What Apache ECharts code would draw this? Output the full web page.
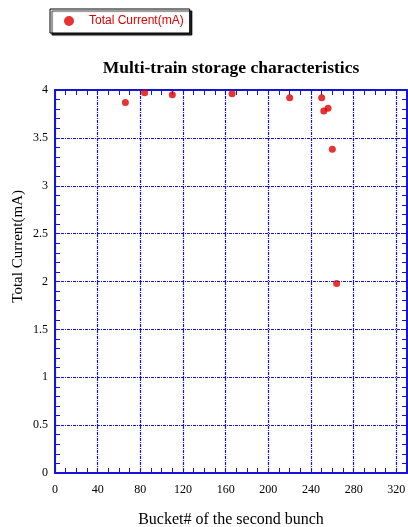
<!DOCTYPE html>
<html>
<head>
<meta charset="utf-8">
<script src="https://cdn.jsdelivr.net/npm/echarts@6/dist/echarts.min.js"></script>
<style>
  html, body { margin: 0; padding: 0; background: #fff; }
  #chart { width: 408px; height: 527px; }
</style>
</head>
<body>
<div id="chart"></div>
<script>
// bucket number of the second bunch vs total stored current
const bucket = [66, 84, 110, 166, 220, 250, 252, 256, 260, 264];
const current = [3.87, 3.97, 3.95, 3.96, 3.92, 3.92, 3.78, 3.81, 3.38, 1.98];
const xTicks = [0, 40, 80, 120, 160, 200, 240, 280, 320];
const yTicks = [0, 0.5, 1, 1.5, 2, 2.5, 3, 3.5, 4];

const blue = '#1414d8';
const serif = '"Liberation Serif", "Times New Roman", serif';

const myChart = echarts.init(document.getElementById('chart'));

const gridLine = {
  show: true,
  lineStyle: { color: blue, width: 1.2, type: [3, 1, 1, 1] }
};

function edgeAxis(extra) {
  return Object.assign({
    type: 'value',
    axisLine: { show: true, onZero: false, lineStyle: { color: blue, width: 2 } },
    axisTick: { show: true, inside: true, length: 5, lineStyle: { color: blue } },
    minorTick: { show: true, length: 5, lineStyle: { color: blue } },
    splitLine: { show: false },
    axisLabel: { show: false }
  }, extra);
}

const option = {
  animation: false,
  title: {
    text: 'Multi-train storage characteristics',
    left: 226,
    textAlign: 'center',
    top: 54,
    textStyle: { fontFamily: serif, fontSize: 17.5, fontWeight: 'bold', color: '#000' }
  },
  legend: {
    left: 50,
    top: 9,
    width: 144,
    itemWidth: 10,
    itemHeight: 10,
    itemGap: 5,
    padding: [6, 6, 6, 14],
    borderColor: '#000',
    borderWidth: 1,
    backgroundColor: '#fff',
    shadowColor: 'rgba(0,0,0,0.85)',
    shadowBlur: 1,
    shadowOffsetX: 2,
    shadowOffsetY: 2,
    textStyle: { color: '#e00000', fontFamily: '"Liberation Sans", Arial, sans-serif', fontSize: 12, padding: [0, 0, 0, 10] },
    data: ['Total Current(mA)']
  },
  grid: { left: 55, right: 1, top: 90, bottom: 54, outerBoundsMode: 'none', containLabel: false },
  xAxis: [
    edgeAxis({
      position: 'bottom',
      min: 0, max: 330, interval: 40,
      minorTick: { show: true, splitNumber: 4, length: 5, lineStyle: { color: blue } },
      splitLine: gridLine,
      name: 'Bucket# of the second bunch',
      nameLocation: 'middle',
      nameGap: 39,
      nameTextStyle: { fontFamily: serif, fontSize: 16, color: '#000' },
      axisLabel: {
        show: true, margin: 11, showMaxLabel: false,
        fontFamily: serif, fontSize: 12, color: '#000',
        formatter: v => xTicks.includes(v) ? String(v) : ''
      }
    }),
    edgeAxis({
      position: 'top',
      min: 0, max: 330, interval: 40,
      minorTick: { show: true, splitNumber: 4, length: 5, lineStyle: { color: blue } }
    })
  ],
  yAxis: [
    edgeAxis({
      position: 'left',
      min: 0, max: 4, interval: 0.5,
      minorTick: { show: true, splitNumber: 5, length: 5, lineStyle: { color: blue } },
      splitLine: gridLine,
      axisLabel: {
        show: true, margin: 7,
        fontFamily: serif, fontSize: 12, color: '#000',
        formatter: v => yTicks.includes(v) ? String(v) : ''
      }
    }),
    edgeAxis({
      position: 'right',
      min: 0, max: 4, interval: 0.5,
      minorTick: { show: true, splitNumber: 5, length: 5, lineStyle: { color: blue } }
    })
  ],
  graphic: [{
    type: 'text',
    left: 11,
    top: 190,
    rotation: Math.PI / 2,
    style: {
      text: 'Total Current(mA)',
      fontFamily: serif,
      fontSize: 15,
      fill: '#000'
    }
  }],
  series: [{
    name: 'Total Current(mA)',
    type: 'scatter',
    symbol: 'circle',
    symbolSize: 7,
    itemStyle: { color: '#e00000' },
    data: bucket.map((b, i) => [b, current[i]])
  }]
};

myChart.setOption(option);
</script>
</body>
</html>
